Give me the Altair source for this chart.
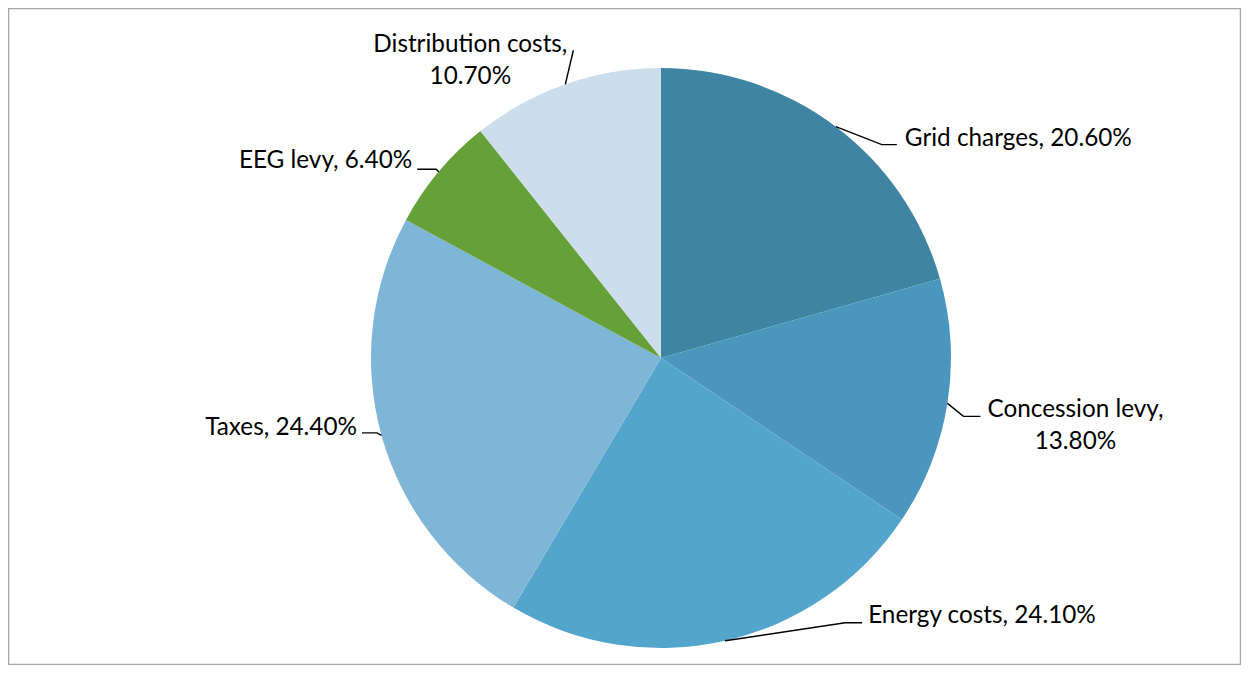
import math
import altair as alt
import pandas as pd

# ---- data ----
categories = ["Grid charges", "Concession levy", "Energy costs", "Taxes", "EEG levy", "Distribution costs"]
shares = [20.6, 13.8, 24.1, 24.4, 6.4, 10.7]
label_lines = [
    "Grid charges, 20.60%",
    "Concession levy,\n13.80%",
    "Energy costs, 24.10%",
    "Taxes, 24.40%",
    "EEG levy, 6.40%",
    "Distribution costs,\n10.70%",
]
colors = ["#3F84A3", "#4A96BE", "#53A5CC", "#7FB6D8", "#65A038", "#CCDDEB"]

# ---- layout (pixels) ----
W, H = 1233, 657
CX, CY, R = 653, 350, 290
# leader elbow offset from slice edge point, horizontal run, text offset, align
elbow_dx = [46, 16, 120, -4.5, -2.5, 8]
elbow_dy = [18, 13, -18, -2.5, -2.5, -34]
run = [15, 17, 17, -15, -19, 0]
text_dx = [8, 95, 6, -5, -5, -103]
text_dy = [1.5, 1, 0, 2, -1, 2]
aligns = ["left", "center", "left", "right", "right", "center"]

FONT = "Lato"
FS = 24.3

# pie table
pie_df = pd.DataFrame({"category": categories, "share": shares, "idx": list(range(len(categories)))})

# leader lines and labels, derived from the shares
total = sum(shares)
line_rows, text_rows = [], []
cum = 0.0
for i, (c, s) in enumerate(zip(categories, shares)):
    mid = (cum + s / 2) / total * 2 * math.pi
    cum += s
    sx, sy = math.sin(mid), math.cos(mid)  # unit radius coordinates (y up)
    ex, ey = sx + elbow_dx[i] / R, sy - elbow_dy[i] / R
    fx, fy = ex + run[i] / R, ey
    for k, (px, py) in enumerate([(sx, sy), (ex, ey), (fx, fy)]):
        line_rows.append({"category": c, "pt": k, "x": px, "y": py})
    text_rows.append({
        "category": c,
        "label": label_lines[i],
        "x": fx + text_dx[i] / R,
        "y": fy - text_dy[i] / R,
        "align": aligns[i],
    })
line_df = pd.DataFrame(line_rows)
text_df = pd.DataFrame(text_rows)

xscale = alt.Scale(domain=[-CX / R, (W - CX) / R], range=[0, W], nice=False, zero=False)
yscale = alt.Scale(domain=[-(H - CY) / R, CY / R], range=[H, 0], nice=False, zero=False)

pie = alt.Chart(pie_df).mark_arc(radius=R).encode(
    theta=alt.Theta("share:Q", stack=True),
    color=alt.Color("category:N", scale=alt.Scale(domain=categories, range=colors), legend=None),
    order=alt.Order("idx:Q", sort="ascending"),
    x=alt.value(CX),
    y=alt.value(CY),
)

leaders = alt.Chart(line_df).mark_line(color="black", strokeWidth=1.4).encode(
    x=alt.X("x:Q", scale=xscale, axis=None),
    y=alt.Y("y:Q", scale=yscale, axis=None),
    detail="category:N",
    order="pt:Q",
)

text_layers = []
for al in ["left", "right", "center"]:
    text_layers.append(
        alt.Chart(text_df).transform_filter(alt.datum.align == al).mark_text(
            align=al, baseline="alphabetic", font=FONT, fontSize=FS, color="black",
            lineBreak="\n", lineHeight=31.5,
        ).encode(
            x=alt.X("x:Q", scale=xscale, axis=None),
            y=alt.Y("y:Q", scale=yscale, axis=None),
            text="label:N",
        )
    )

chart = alt.layer(pie, leaders, *text_layers).properties(
    width=W, height=H, padding=0, autosize=alt.AutoSizeParams(type="none"),
).configure_view(stroke="#A6A6A6", strokeWidth=2.5)

chart.save("out.html", embed_options={"renderer": "svg", "actions": False})
